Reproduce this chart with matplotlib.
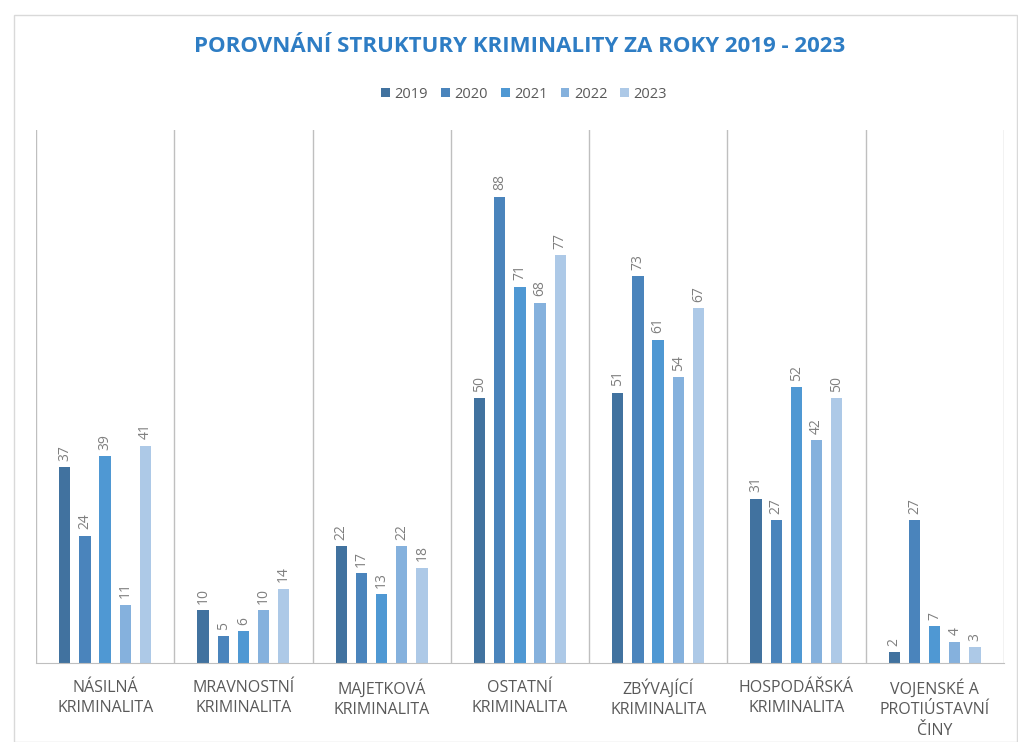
import matplotlib.pyplot as plt
import numpy as np
from matplotlib.patches import Rectangle

categories = ['NÁSILNÁ\nKRIMINALITA', 'MRAVNOSTNÍ\nKRIMINALITA', 'MAJETKOVÁ\nKRIMINALITA',
              'OSTATNÍ\nKRIMINALITA', 'ZBÝVAJÍCÍ\nKRIMINALITA', 'HOSPODÁŘSKÁ\nKRIMINALITA',
              'VOJENSKÉ A\nPROTIÚSTAVNÍ\nČINY']
years = ['2019', '2020', '2021', '2022', '2023']
v2019 = [37, 10, 22, 50, 51, 31, 2]
v2020 = [24, 5, 17, 88, 73, 27, 27]
v2021 = [39, 6, 13, 71, 61, 52, 7]
v2022 = [11, 10, 22, 68, 54, 42, 4]
v2023 = [41, 14, 18, 77, 67, 50, 3]
series = [v2019, v2020, v2021, v2022, v2023]
colors = ['#41729F', '#4A84BC', '#4F98D3', '#85B1DD', '#ADC9E7']

plt.rcParams['font.family'] = ['Open Sans', 'DejaVu Sans']

fig = plt.figure(figsize=(10.18, 7.42), dpi=100)
fig.patches.append(Rectangle((0.014, 0.0), 0.985, 0.98, transform=fig.transFigure,
                             fill=False, edgecolor='#D9D9D9', lw=1))
ax = fig.add_axes([0.0354, 0.1065, 0.9506, 0.7183])

x = np.arange(len(categories))
step = 0.146
width = 0.082
for i, (vals, c, yr) in enumerate(zip(series, colors, years)):
    pos = x + (i - 2) * step
    ax.bar(pos, vals, width, color=c, label=yr)
    for p, v in zip(pos, vals):
        ax.text(p, v + 1.2, str(v), rotation=90, ha='center', va='bottom',
                fontsize=10, color='#7F7F7F')

ax.set_xlim(-0.5, len(categories) - 0.5)
ax.set_ylim(0, 100.6)
for b in np.arange(-0.5, len(categories), 1):
    ax.axvline(b, color='#BFBFBF', lw=1, zorder=0)
for s in ['top', 'right', 'left']:
    ax.spines[s].set_visible(False)
ax.spines['bottom'].set_color('#BFBFBF')
ax.set_yticks([])
ax.set_xticks(x)
ax.set_xticklabels(categories, fontsize=11.5, color='#595959', linespacing=1.35)
ax.tick_params(axis='x', length=0, pad=12)

fig.text(0.51, 0.937, 'POROVNÁNÍ STRUKTURY KRIMINALITY ZA ROKY 2019 - 2023',
         ha='center', va='center', fontsize=16, fontweight='bold', color='#2E7DC4')
fig.legend(loc='center', bbox_to_anchor=(0.515, 0.873), ncol=5, frameon=False,
           fontsize=10.5, handlelength=0.6, handleheight=0.6, columnspacing=0.9,
           handletextpad=0.3, labelcolor='#595959')

plt.savefig('out.png', dpi=100)
